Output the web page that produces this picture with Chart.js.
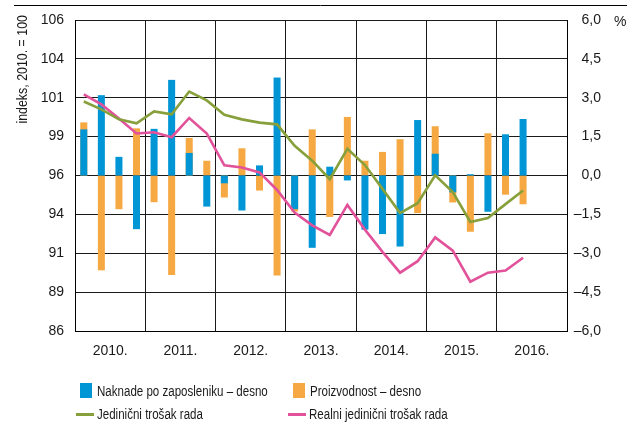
<!DOCTYPE html>
<html>
<head>
<meta charset="utf-8">
<script src="https://cdn.jsdelivr.net/npm/chart.js@4.4.1/dist/chart.umd.min.js"></script>
<style>
  html, body { margin: 0; padding: 0; background: #fff; }
  #wrap { position: relative; width: 638px; height: 423px; }
  #wrap canvas { position: absolute; left: 0; top: 0; }
  .leg { position: absolute; font: 15.5px 'Liberation Sans', Arial, sans-serif;
         color: #1a1a1a; line-height: 16px; white-space: nowrap;
         transform: scaleX(0.745); transform-origin: 0 50%; }
  .sw { position: absolute; }
</style>
</head>
<body>
<div id="wrap">
  <canvas id="chart" width="638" height="423"></canvas>
  <div id="legend"></div>
</div>
<script>
// categories
const years = ['2010.', '2011.', '2012.', '2013.', '2014.', '2015.', '2016.'];
const quarters = years.flatMap(y => ['I.', 'II.', 'III.', 'IV.'].map(q => q + y));

// series (bars on right axis, %)
const naknade = [1.78, 3.10, 0.72, -2.07, 1.80, 3.69, 0.87, -1.20, -0.30, -1.35, 0.39, 3.78,
                 -1.30, -2.79, 0.34, -0.19, -2.09, -2.26, -2.74, 2.14, 0.84, -0.65, 0.05, -1.40, 1.59, 2.18];
const proizvodnost = [2.05, -3.66, -1.30, 1.82, -1.03, -3.84, 1.45, 0.57, -0.85, 1.05, -0.58, -3.86,
                      -1.39, 1.78, -1.60, 2.26, 0.57, 0.91, 1.40, -1.45, 1.90, -1.04, -2.17, 1.63, -0.74, -1.11];

// series (lines on left axis, index 2010 = 100)
const jedinicni = [100.76, 100.25, 99.61, 99.36, 100.12, 99.93, 101.40, 100.83, 99.91, 99.61, 99.40, 99.29,
                   97.91, 96.95, 95.76, 97.71, 96.67, 95.14, 93.58, 94.22, 96.01, 94.93, 93.01, 93.26, 94.16, 95.03];
const realni = [101.21, 100.57, 99.66, 98.70, 98.78, 98.46, 99.70, 98.70, 96.65, 96.52, 96.20, 95.07,
                93.62, 92.79, 92.18, 94.11, 92.52, 91.09, 89.75, 90.49, 92.02, 91.17, 89.17, 89.75, 89.89, 90.71];

// tick labels
const leftTicks = ['86', '89', '91', '94', '96', '99', '101', '104', '106'];
const rightTicks = ['\u20136,0', '\u20134,5', '\u20133,0', '\u20131,5', '0,0', '1,5', '3,0', '4,5', '6,0'];

const tickFont = { family: "'Liberation Sans', Arial, sans-serif", size: 14 };
const textColor = '#1a1a1a';
const gridColor = '#1a1a1a';

// extra texts: top rule, axis title, % sign
const extras = {
  id: 'extras',
  afterDraw(chart) {
    const ctx = chart.ctx;
    ctx.save();
    ctx.strokeStyle = '#000';
    ctx.lineWidth = 1;
    ctx.beginPath();
    ctx.moveTo(14, 5.5);
    ctx.lineTo(627, 5.5);
    ctx.stroke();

    ctx.fillStyle = textColor;
    ctx.font = "14px 'Liberation Sans', Arial, sans-serif";
    ctx.textAlign = 'left';
    ctx.textBaseline = 'middle';
    ctx.fillText('%', 614, 22);

    ctx.translate(23, 15);
    ctx.rotate(-Math.PI / 2);
    ctx.scale(0.8, 1);
    ctx.font = "15.5px 'Liberation Sans', Arial, sans-serif";
    ctx.textAlign = 'right';
    ctx.fillText('indeks, 2010. = 100', 0, 0);
    ctx.restore();
  }
};

const ctx = document.getElementById('chart').getContext('2d');
const chart = new Chart(ctx, {
  type: 'bar',
  data: {
    labels: quarters,
    datasets: [
      { type: 'line', label: 'Jedinični trošak rada', data: jedinicni, yAxisID: 'y', xAxisID: 'x',
        borderColor: '#87a03c', backgroundColor: '#87a03c', borderWidth: 2.6, pointRadius: 0, tension: 0, order: 0 },
      { type: 'line', label: 'Realni jedinični trošak rada', data: realni, yAxisID: 'y', xAxisID: 'x',
        borderColor: '#e2529a', backgroundColor: '#e2529a', borderWidth: 2.6, pointRadius: 0, tension: 0, order: 0 },
      { label: 'Naknade po zaposleniku – desno', data: naknade, yAxisID: 'y1', xAxisID: 'x',
        backgroundColor: '#0096d6', grouped: false, barPercentage: 0.4, categoryPercentage: 1, order: 1 },
      { label: 'Proizvodnost – desno', data: proizvodnost, yAxisID: 'y1', xAxisID: 'x',
        backgroundColor: '#f6a942', grouped: false, barPercentage: 0.4, categoryPercentage: 1, order: 2 }
    ]
  },
  options: {
    responsive: false,
    animation: false,
    layout: { padding: { top: 20, bottom: 62, left: 0, right: 37 } },
    plugins: { legend: { display: false }, tooltip: { enabled: false } },
    scales: {
      x: { display: false, offset: true },
      xYear: {
        type: 'category', labels: years, position: 'bottom', offset: true,
        grid: { offset: true, color: gridColor, drawTicks: false },
        border: { color: '#000' },
        ticks: { font: tickFont, color: textColor, padding: 12, maxRotation: 0 },
        afterFit(s) { s.height = 30; }
      },
      y: {
        position: 'left', min: 86, max: 106,
        ticks: { stepSize: 2.5, font: tickFont, color: textColor, padding: 11,
                 callback: (v, i) => leftTicks[i] },
        grid: { color: gridColor, drawTicks: false },
        border: { color: '#000' },
        afterFit(s) { s.width = 75; }
      },
      y1: {
        position: 'right', min: -6, max: 6,
        ticks: { stepSize: 1.5, font: tickFont, color: textColor, padding: 6, crossAlign: 'far',
                 callback: (v, i) => rightTicks[i] },
        grid: { display: false },
        border: { color: '#000' },
        afterFit(s) { s.width = 34; }
      }
    }
  },
  plugins: [extras]
});

// html legend, two columns
const legendOrder = [2, 3, 0, 1];
const legendPos = [[80, 383], [293, 383], [76, 406], [288, 406]];
const legend = document.getElementById('legend');
legendOrder.forEach((di, k) => {
  const ds = chart.data.datasets[di];
  const [lx, ly] = legendPos[k];
  const sw = document.createElement('div');
  sw.className = 'sw';
  sw.style.background = ds.backgroundColor;
  if (ds.type === 'line') {
    sw.style.left = lx + 'px'; sw.style.top = (ly + 7) + 'px';
    sw.style.width = '18px'; sw.style.height = '3px';
  } else {
    sw.style.left = lx + 'px'; sw.style.top = ly + 'px';
    sw.style.width = '12px'; sw.style.height = '15px';
  }
  legend.appendChild(sw);
  const t = document.createElement('div');
  t.className = 'leg';
  t.textContent = ds.label;
  t.style.left = (lx + (ds.type === 'line' ? 21 : 17)) + 'px';
  t.style.top = ly + 'px';
  legend.appendChild(t);
});
</script>
</body>
</html>
